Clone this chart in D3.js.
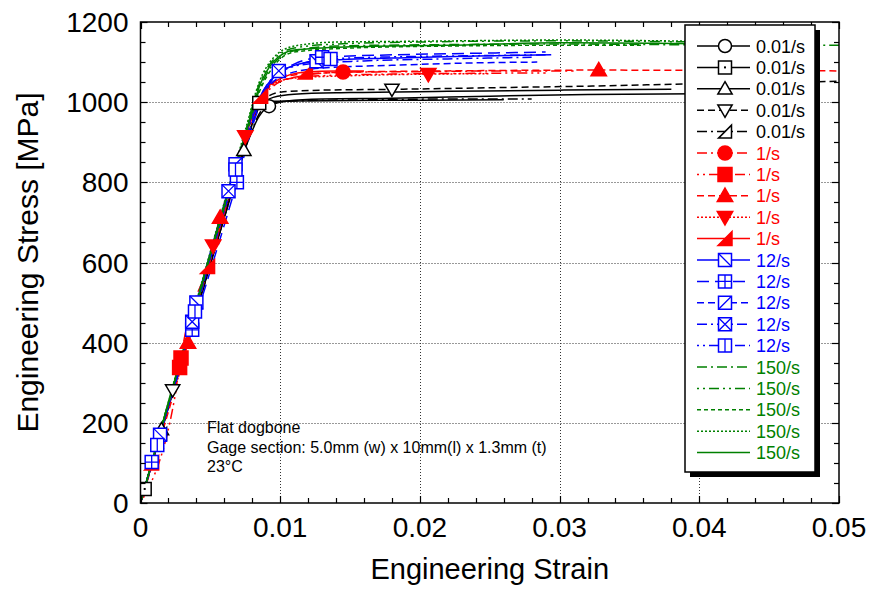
<!DOCTYPE html>
<html><head><meta charset="utf-8">
<script src="https://cdn.jsdelivr.net/npm/d3@7"></script>
<style>
html,body{margin:0;padding:0;background:#fff;}
svg{display:block;font-family:"Liberation Sans",Arial,sans-serif;}
</style></head>
<body><svg id="chart" width="872" height="590"></svg>
<script>
// ---------------- data ----------------
const xTicks = [0, 0.01, 0.02, 0.03, 0.04, 0.05];
const xTickLabels = ["0", "0.01", "0.02", "0.03", "0.04", "0.05"];
const yTicks = [0, 200, 400, 600, 800, 1000, 1200];
const yTickLabels = ["0", "200", "400", "600", "800", "1000", "1200"];
const xLabel = "Engineering Strain";
const yLabel = "Engineering Stress [MPa]";
const noteLines = ["Flat dogbone", "Gage section: 5.0mm (w) x 10mm(l) x 1.3mm (t)", "23°C"];

const seriesNames = ["0.01/s","0.01/s","0.01/s","0.01/s","0.01/s","1/s","1/s","1/s","1/s","1/s",
  "12/s","12/s","12/s","12/s","12/s","150/s","150/s","150/s","150/s","150/s"];
const seriesGroup = ["k","k","k","k","k","r","r","r","r","r","b","b","b","b","b","g","g","g","g","g"];
const seriesDash = ["solid","solid","solid","dash","dashDot","dashDot","dotDash","dash","dot","solid",
  "solid","longDash","dash","dashDot","dotDash","dashDot","dotDash","shortDash","dot","solid"];
const seriesMarker = ["circle","squareDot","triUp","triDown","halfTri","circle","square","triUp","triDown","halfTri",
  "sqDiagA","sqPlus","sqDiagB","sqX","sqVert",null,null,null,null,null];

// strain / stress pairs for each curve
const s1 = [[0,0],[0.002,240],[0.004,480],[0.006,715],[0.0075,885],[0.0085,965],[0.0092,990],[0.0105,1003],[0.013,1008],[0.018,1010],[0.025,1015],[0.032,1019],[0.040,1021],[0.045,1022]];
const s2 = [[0,0],[0.0003,35],[0.002,238],[0.004,478],[0.006,712],[0.0078,920],[0.0085,998],[0.0093,1002],[0.011,1003],[0.015,1004],[0.020,1005],[0.026,1006]];
const s3 = [[0,0],[0.0015,183],[0.004,480],[0.006,718],[0.0074,880],[0.0085,990],[0.0095,1012],[0.011,1020],[0.015,1024],[0.022,1027],[0.030,1030],[0.038,1032]];
const s4 = [[0,0],[0.0023,282],[0.0045,540],[0.0065,778],[0.0078,925],[0.0088,1005],[0.010,1025],[0.013,1030],[0.018,1032],[0.025,1036],[0.032,1040],[0.040,1046],[0.050,1052]];
const s5 = [[0,0],[0.0014,172],[0.004,476],[0.006,712],[0.0077,905],[0.0088,985],[0.0098,1000],[0.012,1004],[0.017,1006],[0.022,1008],[0.028,1008]];
const s6 = [[0,0],[0.002,242],[0.004,485],[0.006,725],[0.0075,905],[0.0085,1000],[0.0095,1040],[0.011,1062],[0.0145,1075],[0.020,1076],[0.026,1078],[0.031,1078]];
const s7 = [[0,0],[0.0028,338],[0.0029,362],[0.005,605],[0.0068,820],[0.008,955],[0.009,1030],[0.0105,1058],[0.013,1066],[0.018,1070],[0.024,1072],[0.029,1073]];
const s8 = [[0,0],[0.0034,400],[0.0057,712],[0.0072,880],[0.0083,990],[0.0093,1045],[0.011,1068],[0.015,1075],[0.022,1078],[0.0328,1080],[0.042,1079],[0.050,1078]];
const s9 = [[0,0],[0.003,365],[0.0052,642],[0.0075,915],[0.0085,1005],[0.0095,1045],[0.011,1060],[0.015,1066],[0.0206,1070],[0.025,1071]];
const s10 = [[0,0],[0.0008,100],[0.0048,590],[0.007,860],[0.0086,1015],[0.0098,1055],[0.0118,1075],[0.014,1078],[0.016,1078]];
const s11 = [[0,0],[0.0014,170],[0.004,500],[0.0068,840],[0.008,970],[0.009,1040],[0.0105,1085],[0.0126,1102],[0.018,1110],[0.024,1115],[0.0294,1118]];
const s12 = [[0,0],[0.0008,102],[0.0037,432],[0.0069,800],[0.0082,960],[0.0093,1050],[0.011,1095],[0.013,1112],[0.018,1118],[0.024,1122],[0.029,1125]];
const s13 = [[0,0],[0.002,245],[0.004,485],[0.006,730],[0.0078,930],[0.009,1030],[0.0105,1070],[0.013,1085],[0.018,1092],[0.024,1098],[0.0284,1100]];
const s14 = [[0,0],[0.0037,452],[0.0063,778],[0.008,960],[0.009,1030],[0.0099,1078],[0.012,1095],[0.016,1103],[0.022,1108],[0.028,1112]];
const s15 = [[0,0],[0.0012,145],[0.0039,478],[0.0068,832],[0.008,970],[0.0092,1050],[0.011,1090],[0.0136,1108],[0.018,1113],[0.024,1116],[0.029,1118]];
const s16 = [[0,0],[0.002,250],[0.004,495],[0.006,740],[0.0075,915],[0.0085,1030],[0.0095,1095],[0.011,1128],[0.014,1140],[0.020,1143],[0.030,1145],[0.040,1143],[0.050,1142]];
const s17 = [[0,0],[0.002,252],[0.004,500],[0.006,745],[0.0075,925],[0.0085,1045],[0.0095,1105],[0.011,1135],[0.014,1145],[0.020,1150],[0.030,1153],[0.040,1150],[0.044,1148]];
const s18 = [[0,0],[0.002,248],[0.004,492],[0.006,738],[0.0075,910],[0.0085,1025],[0.0095,1088],[0.011,1125],[0.015,1135],[0.022,1140],[0.030,1142],[0.036,1142]];
const s19 = [[0,0],[0.002,253],[0.004,503],[0.006,750],[0.0075,930],[0.0085,1050],[0.0095,1110],[0.011,1140],[0.014,1150],[0.020,1152],[0.030,1155],[0.040,1152],[0.045,1150]];
const s20 = [[0,0],[0.002,250],[0.004,498],[0.006,742],[0.0075,920],[0.0085,1038],[0.0095,1100],[0.011,1130],[0.015,1138],[0.022,1142],[0.030,1148],[0.040,1146],[0.047,1145]];
const seriesData = [s1,s2,s3,s4,s5,s6,s7,s8,s9,s10,s11,s12,s13,s14,s15,s16,s17,s18,s19,s20];

// marker positions (strain, stress) per curve
const seriesMarks = [
  [[0.0092,990]],
  [[0.0003,35],[0.0085,998]],
  [[0.0015,183],[0.0074,880]],
  [[0.0023,282],[0.018,1032]],
  [[0.0014,172]],
  [[0.0145,1075]],
  [[0.0028,338],[0.0029,362]],
  [[0.0034,400],[0.0057,712],[0.0328,1080]],
  [[0.0052,642],[0.0075,915],[0.0206,1070]],
  [[0.0008,100],[0.0048,590],[0.0086,1015],[0.0118,1075]],
  [[0.0014,170],[0.004,500],[0.0126,1102]],
  [[0.0008,102],[0.0037,432],[0.0069,800],[0.013,1112]],
  [[0.0068,845]],
  [[0.0037,452],[0.0063,778],[0.0099,1078]],
  [[0.0012,145],[0.0039,478],[0.0068,832],[0.0136,1108]],
  [],[],[],[],[]
];

// ---------------- styles ----------------
const groupColor = {k:"#000000", r:"#ff0000", b:"#0000ff", g:"#008000"};
const dashes = {solid:null, dash:"7,4", dot:"2,2", dashDot:"10,4,2,4", dotDash:"2,4,2,4,10,4",
  longDash:"12,6", shortDash:"4,3"};

const W = 872, H = 590;
const margin = {left:140.5, right:872-839, top:22, bottom:590-503};
const svg = d3.select("#chart");
const x = d3.scaleLinear().domain([0,0.05]).range([margin.left, W - margin.right]);
const y = d3.scaleLinear().domain([0,1200]).range([H - margin.bottom, margin.top]);
const x0 = x.range()[0], x1 = x.range()[1], y0 = y.range()[0], y1 = y.range()[1];

svg.append("rect").attr("width",W).attr("height",H).attr("fill","#fff");

// gridlines (dotted)
const grid = svg.append("g").attr("stroke","#333").attr("stroke-width",1).attr("stroke-dasharray","1,2");
[0.01,0.02,0.03,0.04].forEach(v => grid.append("line")
  .attr("x1",Math.round(x(v))+0.5).attr("x2",Math.round(x(v))+0.5).attr("y1",y1).attr("y2",y0));
[200,400,600,800,1000].forEach(v => grid.append("line")
  .attr("x1",x0).attr("x2",x1).attr("y1",Math.round(y(v))+0.5).attr("y2",Math.round(y(v))+0.5));

// clip
svg.append("clipPath").attr("id","clip").append("rect")
  .attr("x",x0).attr("y",y1).attr("width",x1-x0).attr("height",y0-y1);

// marker shapes
function markerPath(type, h){
  switch(type){
    case "circle": return null;
    case "square": case "squareDot": case "sqDiagA": case "sqPlus": case "sqDiagB": case "sqX": case "sqVert":
      return `M${-h},${-h}H${h}V${h}H${-h}Z`;
    case "triUp": return `M0,${-h*1.1}L${h*1.1},${h*0.8}L${-h*1.1},${h*0.8}Z`;
    case "triDown": return `M0,${h*1.1}L${h*1.1},${-h*0.8}L${-h*1.1},${-h*0.8}Z`;
    case "halfTri": return `M${-h},${h}L${h},${-h}L${h},${h}Z`;
  }
}
function innerPath(type, h){
  switch(type){
    case "sqDiagA": return `M${-h},${-h}L${h},${h}`;
    case "sqDiagB": return `M${-h},${h}L${h},${-h}`;
    case "sqPlus": return `M0,${-h}V${h}M${-h},0H${h}`;
    case "sqX": return `M${-h},${-h}L${h},${h}M${-h},${h}L${h},${-h}`;
    case "sqVert": return `M0,${-h}V${h}`;
  }
  return null;
}
function drawMarker(g, type, cx, cy, color, filled){
  const h = filled ? 7 : 6.5;
  const mg = g.append("g").attr("transform",`translate(${cx},${cy})`);
  const fill = filled ? color : "#fff";
  if(type === "circle"){
    mg.append("circle").attr("r",h).attr("fill",fill).attr("stroke",color).attr("stroke-width",1.5);
  } else {
    mg.append("path").attr("d",markerPath(type,h)).attr("fill",fill).attr("stroke",color).attr("stroke-width",1.5);
    const ip = innerPath(type,h);
    if(ip) mg.append("path").attr("d",ip).attr("fill","none").attr("stroke",color).attr("stroke-width",1.3);
    if(type === "squareDot") mg.append("rect").attr("x",-1).attr("y",-1).attr("width",2).attr("height",2).attr("fill",color);
  }
}

// curves
const line = d3.line().x(d => x(d[0])).y(d => y(d[1])).curve(d3.curveMonotoneX);
const plot = svg.append("g").attr("clip-path","url(#clip)");
seriesData.forEach((data,i) => {
  const c = groupColor[seriesGroup[i]];
  plot.append("path").datum(data).attr("d",line).attr("fill","none")
    .attr("stroke",c).attr("stroke-width",1.5)
    .attr("stroke-dasharray",dashes[seriesDash[i]]);
});
seriesData.forEach((data,i) => {
  const c = groupColor[seriesGroup[i]];
  const m = seriesMarker[i];
  if(!m) return;
  seriesMarks[i].forEach(p => drawMarker(plot, m, x(p[0]), y(p[1]), c, seriesGroup[i]==="r"));
});

// frame
svg.append("rect").attr("x",x0).attr("y",y1).attr("width",x1-x0).attr("height",y0-y1)
  .attr("fill","none").attr("stroke","#000").attr("stroke-width",1.5);

// ticks (inward, all four sides)
const tk = svg.append("g").attr("stroke","#000").attr("stroke-width",1.2);
const xMinor = d3.range(0, 0.0501, 0.002);
xMinor.forEach(v => {
  const major = Math.abs(v/0.01 - Math.round(v/0.01)) < 1e-6;
  const L = major ? 7 : 5;
  const px = Math.round(x(v))+0.5;
  tk.append("line").attr("x1",px).attr("x2",px).attr("y1",y0).attr("y2",y0-L);
  tk.append("line").attr("x1",px).attr("x2",px).attr("y1",y1).attr("y2",y1+L);
});
const yMinor = d3.range(0, 1201, 50);
yMinor.forEach(v => {
  const major = v % 200 === 0;
  const L = major ? 7 : 5;
  const py = Math.round(y(v))+0.5;
  tk.append("line").attr("x1",x0).attr("x2",x0+L).attr("y1",py).attr("y2",py);
  tk.append("line").attr("x1",x1).attr("x2",x1-L).attr("y1",py).attr("y2",py);
});

// tick labels
const lbl = svg.append("g").attr("fill","#000").attr("font-size",28);
xTicks.forEach((v,i) => lbl.append("text").attr("x",x(v)).attr("y",y0+34)
  .attr("text-anchor","middle").text(xTickLabels[i]));
yTicks.forEach((v,i) => lbl.append("text").attr("x",x0-12).attr("y",y(v)+10)
  .attr("text-anchor","end").text(yTickLabels[i]));

// axis titles
svg.append("text").attr("x",(x0+x1)/2).attr("y",579).attr("text-anchor","middle")
  .attr("font-size",29).text(xLabel);
svg.append("text").attr("transform",`translate(38,${(y0+y1)/2}) rotate(-90)`)
  .attr("text-anchor","middle").attr("font-size",30).text(yLabel);

// annotation
const note = svg.append("g").attr("font-size",16).attr("fill","#000");
noteLines.forEach((t,i) => note.append("text").attr("x",207).attr("y",433 + i*19.6).text(t));

// legend
const lg = svg.append("g");
const lx = 685, ly = 25, lw = 130, lh = 447;
lg.append("rect").attr("x",lx+5).attr("y",ly+5).attr("width",lw).attr("height",lh).attr("fill","#000");
lg.append("rect").attr("x",lx).attr("y",ly).attr("width",lw).attr("height",lh)
  .attr("fill","#fff").attr("stroke","#000").attr("stroke-width",1.5);
seriesNames.forEach((name,i) => {
  const cy = 46 + i*21.4;
  const c = groupColor[seriesGroup[i]];
  lg.append("line").attr("x1",697).attr("x2",750).attr("y1",cy).attr("y2",cy)
    .attr("stroke",c).attr("stroke-width",1.5).attr("stroke-dasharray",dashes[seriesDash[i]]);
  if(seriesMarker[i]) drawMarker(lg, seriesMarker[i], 725, cy, c, seriesGroup[i]==="r");
  lg.append("text").attr("x",756).attr("y",cy+6.5).attr("font-size",18).attr("fill",c).text(name);
});
</script>
</body></html>
